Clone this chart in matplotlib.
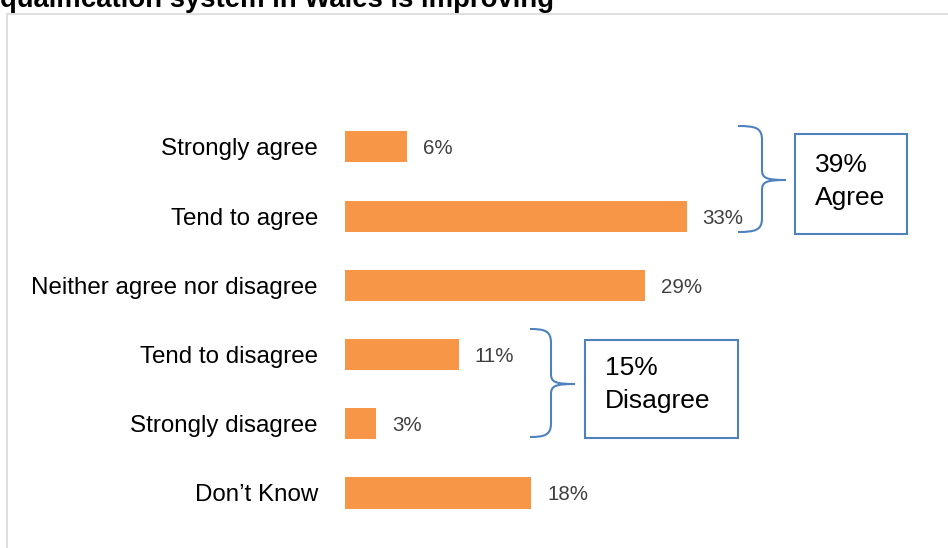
import matplotlib.pyplot as plt
from matplotlib.patches import Rectangle, PathPatch
from matplotlib.path import Path

plt.rcParams['font.family'] = ['Liberation Sans', 'DejaVu Sans']

# data
categories = ['Strongly agree', 'Tend to agree', 'Neither agree nor disagree',
              'Tend to disagree', 'Strongly disagree', 'Don\u2019t Know']
values = [6, 33, 29, 11, 3, 18]
title = 'qualification system in Wales is improving'
agree_text = '39%\nAgree'
disagree_text = '15%\nDisagree'

BAR = '#F79646'
BLUE = '#4F81BD'
W, H = 948, 548

fig = plt.figure(figsize=(W / 100, H / 100), dpi=100)


def px(x, y):
    # pixel coords (top-left origin) -> figure fraction
    return x / W, 1 - y / H


# chart frame (runs off the right and bottom edges)
x0, y0 = px(7, 14)
fig.patches.append(Rectangle((x0, -0.1), 1.2, y0 + 0.1, transform=fig.transFigure,
                             fill=False, edgecolor='#d9d9d9', lw=1.2))

# clipped title
tx, ty = px(0, 7)
fig.text(tx, ty, title, fontsize=19.8, fontweight='bold', ha='left', va='baseline')

ppu = 10.35  # pixels per percent
ax = fig.add_axes([345 / W, 0, (W - 345) / W, (H - 14) / H])
ax.set_xlim(0, (W - 345) / ppu)
ax.set_ylim(5.795, -1.92)
ax.barh(range(len(values)), values, height=0.45, color=BAR)
for i, v in enumerate(values):
    ax.text(v + 16 / ppu, i, f'{v}%', ha='left', va='center_baseline',
            fontsize=14.8, color='#404040')
ax.set_yticks(range(len(categories)), categories, fontsize=17.4)
ax.tick_params(axis='y', length=0, pad=19.5)
ax.set_xticks([])
for s in ax.spines.values():
    s.set_visible(False)
ax.patch.set_visible(False)


def brace(xt, xs, xp, yt, ym, yb):
    pts = [(xt, yt), (xs - 6, yt), (xs, yt + 2), (xs, yt + 14),
           (xs, ym - 10),
           (xs, ym - 2), (xs + 4, ym), (xp, ym),
           (xs + 4, ym), (xs, ym + 2), (xs, ym + 10),
           (xs, yb - 14),
           (xs, yb - 2), (xs - 6, yb), (xt, yb)]
    codes = [Path.MOVETO, Path.CURVE4, Path.CURVE4, Path.CURVE4,
             Path.LINETO,
             Path.CURVE4, Path.CURVE4, Path.CURVE4,
             Path.CURVE4, Path.CURVE4, Path.CURVE4,
             Path.LINETO,
             Path.CURVE4, Path.CURVE4, Path.CURVE4]
    verts = [px(x, y) for x, y in pts]
    fig.patches.append(PathPatch(Path(verts, codes), transform=fig.transFigure,
                                 fill=False, edgecolor=BLUE, lw=1.5))


def box(xl, yt, xr, yb, text, tx, ty):
    bx, by = px(xl, yb)
    fig.patches.append(Rectangle((bx, by), (xr - xl) / W, (yb - yt) / H,
                                 transform=fig.transFigure, fill=False,
                                 edgecolor=BLUE, lw=1.5))
    fx, fy = px(tx, ty)
    fig.text(fx, fy, text, fontsize=19, ha='left', va='top', linespacing=1.45)


brace(738, 762, 786, 126, 180, 232)
box(795, 134, 907, 234, agree_text, 815, 153)
brace(530, 551, 575, 329, 384, 437)
box(585, 340, 738, 438, disagree_text, 605, 356)

fig.savefig('out.png', dpi=100)
